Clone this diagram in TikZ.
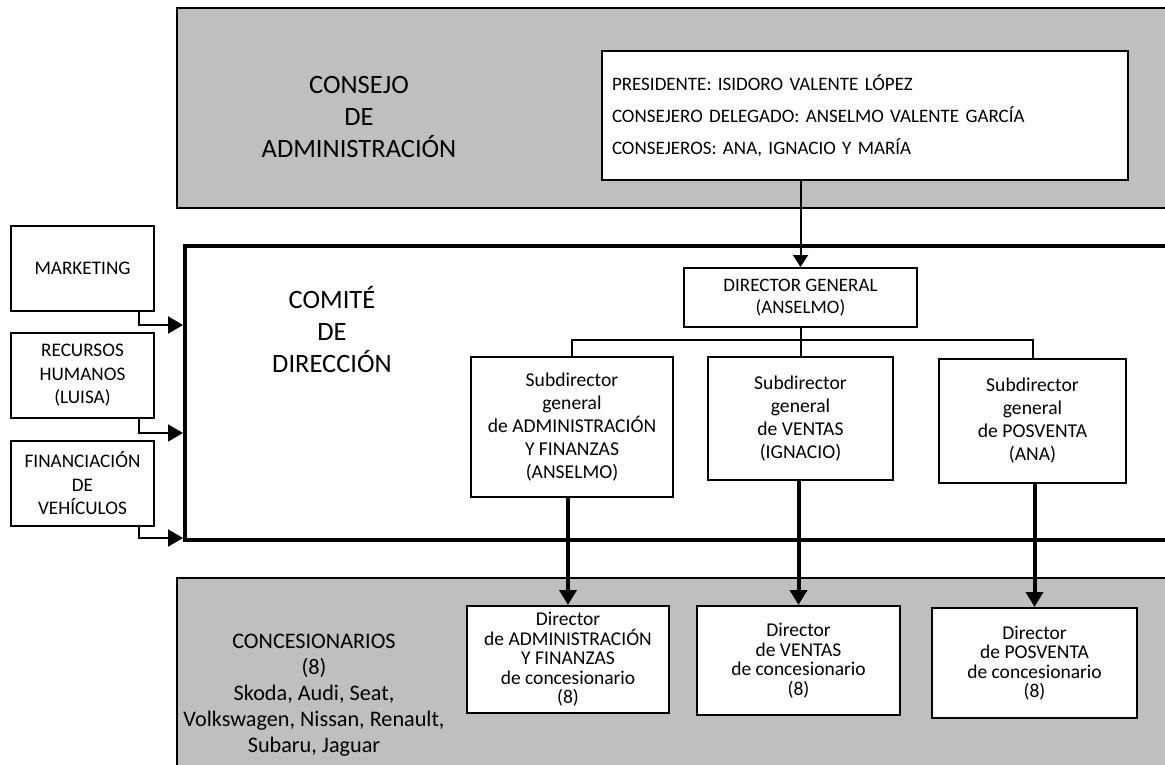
\documentclass[tikz,border=0pt]{standalone}
\usepackage{fontspec}
\setmainfont{Carlito}
\usetikzlibrary{arrows.meta,positioning}
\definecolor{panelgray}{RGB}{191,191,191}
\tikzstyle{panel}=[draw,line width=2.5pt,fill=panelgray]
\tikzstyle{unit}=[draw,line width=2pt,fill=white,align=center,inner sep=2pt]
\tikzstyle{sidebox}=[unit,minimum width=143pt,minimum height=85pt,font=\fontsize{19.2}{23.5}\selectfont]
\tikzstyle{subbox}=[unit,font=\fontsize{19.6}{23}\selectfont]
\tikzstyle{dirbox}=[unit,font=\fontsize{19.5}{19.5}\selectfont]
\tikzstyle{bigtext}=[align=center,font=\fontsize{26.5}{32}\selectfont]
\tikzstyle{link}=[draw,line width=2pt]
\tikzstyle{thinarrow}=[draw,line width=2pt,-{Triangle[length=12pt,width=15pt]}]
\tikzstyle{elbow}=[draw,line width=2pt,-{Triangle[length=15pt,width=17pt]}]
\tikzstyle{bigarrow}=[draw,line width=4pt,-{Triangle[length=15pt,width=17pt]}]
\begin{document}
\begin{tikzpicture}[x=1pt,y=-1pt]
    \clip (0,0) rectangle (1165,765);

    % the three levels
    \path[panel] (177,8) rectangle (1185,208);
    \path[panel] (177,578) rectangle (1185,785);
    \node[draw,fill=white,line width=3.5pt,anchor=north west,
          minimum width=1010pt,minimum height=294pt,inner sep=0pt] (comite) at (183,244) {};

    \node[bigtext] (consejolbl) at (359,117) {CONSEJO\\DE\\ADMINISTRACIÓN};
    \node[bigtext] (comitelbl) at (332,330) {COMITÉ\\DE\\DIRECCIÓN};
    \node[align=center,font=\fontsize{22.2}{26}\selectfont] (concelbl) at (314,695)
        {CONCESIONARIOS\\(8)\\Skoda, Audi, Seat,\\Volkswagen, Nissan, Renault,\\Subaru, Jaguar};

    \node[unit,align=left,text width=506pt,inner sep=10pt,minimum height=129pt,
          font=\fontsize{19}{32}\selectfont] (consejo) at (865,115.5)
        {PRESIDENTE: ISIDORO VALENTE LÓPEZ\\
         CONSEJERO DELEGADO: ANSELMO VALENTE GARCÍA\\
         CONSEJEROS: ANA, IGNACIO Y MARÍA};

    % staff units on the left
    \foreach \pos/\name/\txt in {{(82.5,268)/mkt/MARKETING},
                                 {(82.5,375.5)/rrhh/RECURSOS\\HUMANOS\\(LUISA)},
                                 {(82.5,483.5)/fin/FINANCIACIÓN\\DE\\VEHÍCULOS}}
        \node[sidebox] (\name) at \pos {\txt};
    \foreach \name/\y in {mkt/325,rrhh/433,fin/538}
        \path[elbow] ([xshift=-16pt]\name.south east) |- (comite.west |- 0,\y);

    % direction
    \node[unit,minimum width=233pt,minimum height=59pt,font=\fontsize{19}{22}\selectfont] (dg) at (800.5,297.5)
        {DIRECTOR GENERAL\\(ANSELMO)};
    \node[subbox,minimum width=202pt,minimum height=140pt] (sadm) at (572,427)
        {Subdirector\\general\\de ADMINISTRACIÓN\\Y FINANZAS\\(ANSELMO)};
    \node[subbox,minimum width=185pt,minimum height=123pt] (sven) at (800.5,418.5)
        {Subdirector\\general\\de VENTAS\\(IGNACIO)};
    \node[subbox,minimum width=187pt,minimum height=124pt] (spos) at (1032.5,421)
        {Subdirector\\general\\de POSVENTA\\(ANA)};

    % dealerships
    \node[dirbox,minimum width=202pt,minimum height=107pt] (dadm) at (568,659.5)
        {Director\\de ADMINISTRACIÓN\\Y FINANZAS\\de concesionario\\(8)};
    \node[dirbox,minimum width=203pt,minimum height=109pt] (dven) at (798.5,660.5)
        {Director\\de VENTAS\\de concesionario\\(8)};
    \node[dirbox,minimum width=205pt,minimum height=110pt] (dpos) at (1034.5,663)
        {Director\\de POSVENTA\\de concesionario\\(8)};

    % connectors
    \path[thinarrow] (consejo.south -| dg.north) -- (dg.north);
    \path[link] (dg.south) -- (sven.north);
    \path[link] (dg.south) -- ++(0,12) -| (sadm.north);
    \path[link] (dg.south) -- ++(0,12) -| (spos.north);
    \foreach \s/\d in {sadm/dadm,sven/dven,spos/dpos}
        \path[bigarrow] (\d.north |- \s.south) -- (\d.north);

\end{tikzpicture}
\end{document}
